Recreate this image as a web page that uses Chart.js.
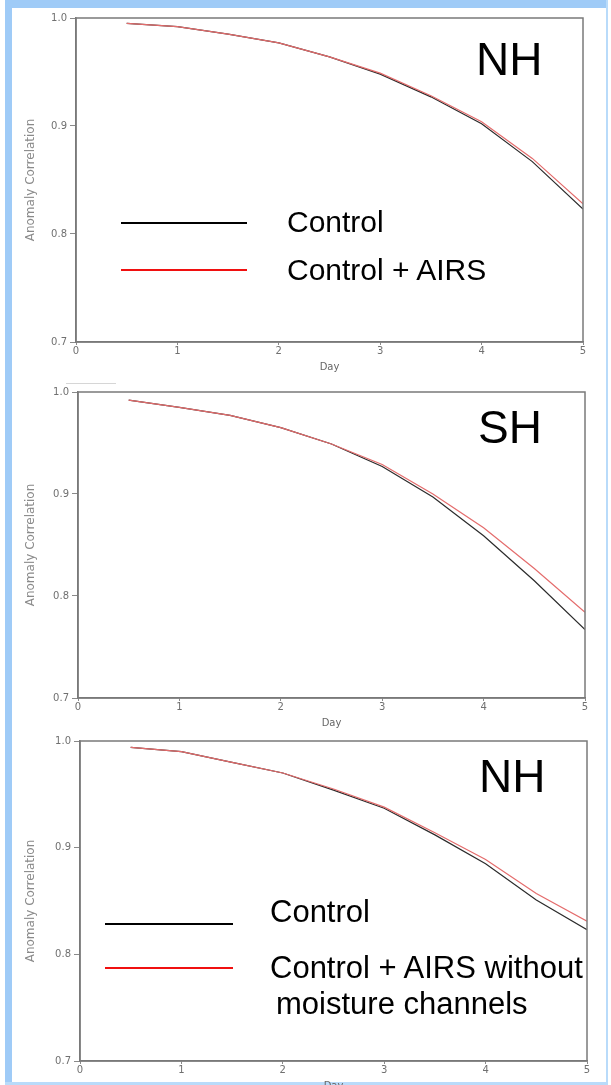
<!DOCTYPE html>
<html><head><meta charset="utf-8">
<script src="https://cdn.jsdelivr.net/npm/chart.js@4.4.1/dist/chart.umd.min.js"></script>
<style>
html,body{margin:0;padding:0;background:#fff;width:611px;height:1085px;overflow:hidden;position:relative;font-family:"Liberation Sans",Arial,sans-serif;}
.frame{position:absolute;background:#9fcbf7;}
canvas{position:absolute;left:0;}
.lbl{position:absolute;line-height:1;white-space:pre;color:#000;}
.key{position:absolute;}
</style></head><body>
<div class="frame" style="left:5px;top:0;width:602px;height:8px"></div>
<div class="frame" style="left:5px;top:0;width:7px;height:1085px"></div>
<div class="frame" style="left:606px;top:0;width:2px;height:1085px;background:#b9dbfa"></div>
<div class="frame" style="left:5px;top:1082px;width:603px;height:3px;background:#b9dbfa"></div>

<canvas id="c1" width="611" height="373" style="top:0px"></canvas>
<canvas id="c2" width="611" height="355" style="top:374px"></canvas>
<canvas id="c3" width="611" height="369" style="top:723px"></canvas>

<div class="key" style="left:66px;top:383px;width:50px;height:1px;background:#d6d6d6"></div>

<div class="lbl" style="left:476px;top:36px;font-size:46px">NH</div>
<div class="key" style="left:121px;top:222px;width:126px;height:2px;background:#000"></div>
<div class="lbl" style="left:287px;top:206.6px;font-size:30px">Control</div>
<div class="key" style="left:121px;top:269px;width:126px;height:1.5px;background:#f01010"></div>
<div class="lbl" style="left:287px;top:254.6px;font-size:30px">Control + AIRS</div>

<div class="lbl" style="left:478px;top:404px;font-size:46px">SH</div>

<div class="lbl" style="left:479px;top:753px;font-size:46px">NH</div>
<div class="key" style="left:105px;top:923px;width:128px;height:2px;background:#000"></div>
<div class="lbl" style="left:270px;top:895.8px;font-size:31px">Control</div>
<div class="key" style="left:105px;top:967px;width:128px;height:1.5px;background:#f01010"></div>
<div class="lbl" style="left:270px;top:951.8px;font-size:31px">Control + AIRS without</div>
<div class="lbl" style="left:276px;top:987.8px;font-size:31px">moisture channels</div>

<script>
// ---- data ----
const days = [0.5, 1, 1.5, 2, 2.5, 3, 3.5, 4, 4.5, 5];
const nhControl   = [0.995, 0.992, 0.985, 0.977, 0.964, 0.948, 0.927, 0.902, 0.867, 0.823];
const nhAirs      = [0.995, 0.992, 0.985, 0.977, 0.964, 0.949, 0.928, 0.904, 0.870, 0.828];
const shControl   = [0.992, 0.985, 0.977, 0.965, 0.949, 0.927, 0.897, 0.859, 0.815, 0.767];
const shAirs      = [0.992, 0.985, 0.977, 0.965, 0.949, 0.929, 0.900, 0.867, 0.827, 0.784];
const nh2Control  = [0.994, 0.990, 0.980, 0.970, 0.954, 0.937, 0.912, 0.885, 0.851, 0.823];
const nh2AirsNoMo = [0.994, 0.990, 0.980, 0.970, 0.955, 0.938, 0.914, 0.889, 0.857, 0.831];
const xTicks = [0, 1, 2, 3, 4, 5];
const yTicks = [0.7, 0.8, 0.9, 1.0];
const xTitle = 'Day';
const yTitle = 'Anomaly Correlation';

// ---- layout ----
const panels = [
  {id:'c1', top:0,   l:76, t:18,  r:583, b:342, black:nhControl,  red:nhAirs},
  {id:'c2', top:374, l:78, t:392, r:585, b:698, black:shControl,  red:shAirs},
  {id:'c3', top:723, l:80, t:741, r:587, b:1061, black:nh2Control, red:nh2AirsNoMo}
];

const boxPlugin = {
  id:'box',
  afterDraw(chart){
    const {ctx, chartArea:a} = chart;
    ctx.save();
    ctx.strokeStyle = '#7a7a7a';
    ctx.lineWidth = 1.5;
    ctx.strokeRect(a.left, a.top, a.right - a.left, a.bottom - a.top);
    ctx.restore();
  }
};

const tickFont = {family:'"DejaVu Sans", sans-serif', size:10};
const pts = arr => days.map((d, i) => ({x:d, y:arr[i]}));

panels.forEach(p => {
  const canvas = document.getElementById(p.id);
  const H = canvas.height;
  const xH = H - (p.b - p.top);
  new Chart(canvas, {
    type:'line',
    data:{datasets:[
      {label:'Control + AIRS', data:pts(p.red), borderColor:'#e46c6c', borderWidth:1.2, pointRadius:0, tension:0, fill:false},
      {label:'Control', data:pts(p.black), borderColor:'#2b2b2b', borderWidth:1.2, pointRadius:0, tension:0, fill:false}
    ]},
    options:{
      responsive:false, animation:false, devicePixelRatio:1,
      layout:{padding:{left:0, top:p.t - p.top, right:611 - p.r, bottom:0}},
      plugins:{legend:{display:false}, tooltip:{enabled:false}},
      scales:{
        x:{
          type:'linear', min:0, max:5,
          afterBuildTicks: s => { s.ticks = xTicks.map(v => ({value:v})); },
          afterFit: s => { s.height = xH; },
          ticks:{font:tickFont, color:'#707070', padding:0, callback:v => String(v)},
          grid:{display:true, drawOnChartArea:false, drawTicks:true, tickLength:3, color:'#8a8a8a'},
          border:{display:true, color:'#7a7a7a', width:1.5},
          title:{display:true, text:xTitle, font:{family:'"DejaVu Sans", sans-serif', size:10}, color:'#666', padding:{top:0, bottom:0}}
        },
        y:{
          type:'linear', min:0.7, max:1.0,
          afterBuildTicks: s => { s.ticks = yTicks.map(v => ({value:v})); },
          afterFit: s => { s.width = p.l; },
          ticks:{font:tickFont, color:'#707070', padding:3, callback:v => Number(v).toFixed(1)},
          grid:{display:true, drawOnChartArea:false, drawTicks:true, tickLength:6, color:'#8a8a8a'},
          border:{display:true, color:'#7a7a7a', width:1.5},
          title:{display:true, text:yTitle, font:{family:'"DejaVu Sans", sans-serif', size:12}, color:'#8a8a8a', padding:{top:24, bottom:0}}
        }
      }
    },
    plugins:[boxPlugin]
  });
});
</script>
</body></html>
